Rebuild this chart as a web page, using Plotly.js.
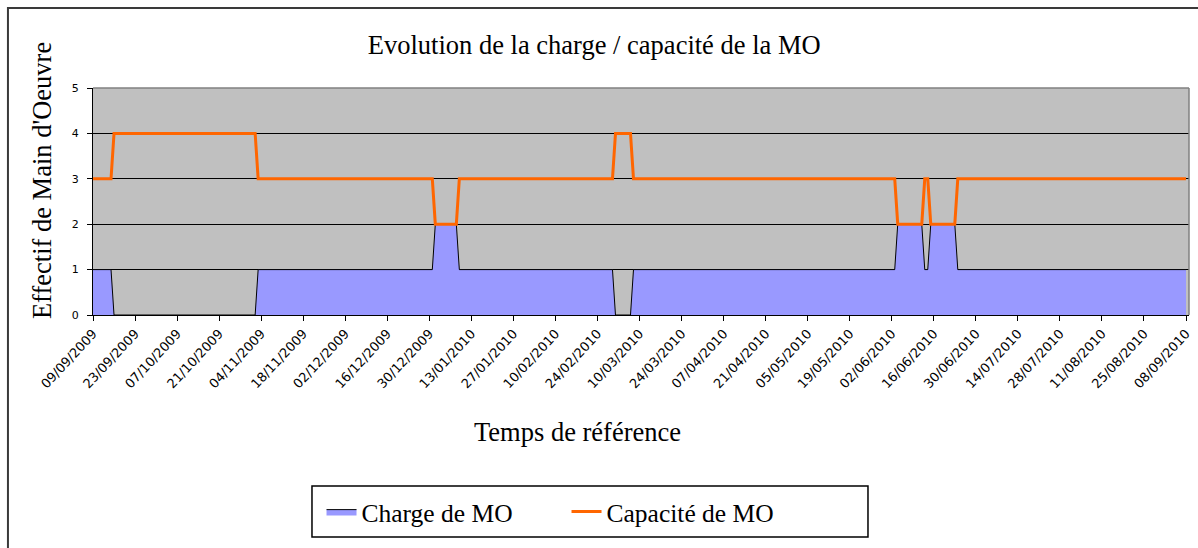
<!DOCTYPE html>
<html>
<head>
<meta charset="utf-8">
<script src="https://cdn.plot.ly/plotly-3.0.1.min.js"></script>
<style>
    body { margin: 0; background: #fff; }
    #chart { width: 1198px; height: 548px; }
</style>
</head>
<body>
<div id="chart"></div>
<script>
// Days where the staffing changes (value holds until the next date)
const changeDates = [
    '2009-09-09', '2009-09-15', '2009-09-16', '2009-11-02', '2009-11-03',
    '2009-12-31', '2010-01-01', '2010-01-08', '2010-01-09',
    '2010-03-01', '2010-03-02', '2010-03-07', '2010-03-08',
    '2010-06-03', '2010-06-04', '2010-06-12', '2010-06-13', '2010-06-14',
    '2010-06-15', '2010-06-23', '2010-06-24', '2010-09-08'
];
const chargeValues = [1, 1, 0, 0, 1, 1, 2, 2, 1, 1, 0, 0, 1, 1, 2, 2, 1, 1, 2, 2, 1, 1];
const capaciteValues = [3, 3, 4, 4, 3, 3, 2, 2, 3, 3, 4, 4, 3, 3, 2, 2, 3, 3, 2, 2, 3, 3];

// Axis ticks, one every 14 days
const tickDates = [
    '2009-09-09', '2009-09-23', '2009-10-07', '2009-10-21', '2009-11-04', '2009-11-18',
    '2009-12-02', '2009-12-16', '2009-12-30', '2010-01-13', '2010-01-27', '2010-02-10',
    '2010-02-24', '2010-03-10', '2010-03-24', '2010-04-07', '2010-04-21', '2010-05-05',
    '2010-05-19', '2010-06-02', '2010-06-16', '2010-06-30', '2010-07-14', '2010-07-28',
    '2010-08-11', '2010-08-25', '2010-09-08'
];
const tickLabels = [
    '09/09/2009', '23/09/2009', '07/10/2009', '21/10/2009', '04/11/2009', '18/11/2009',
    '02/12/2009', '16/12/2009', '30/12/2009', '13/01/2010', '27/01/2010', '10/02/2010',
    '24/02/2010', '10/03/2010', '24/03/2010', '07/04/2010', '21/04/2010', '05/05/2010',
    '19/05/2010', '02/06/2010', '16/06/2010', '30/06/2010', '14/07/2010', '28/07/2010',
    '11/08/2010', '25/08/2010', '08/09/2010'
];

const serif = 'Liberation Serif, Times New Roman, serif';

const traces = [
    {
        x: changeDates,
        y: chargeValues,
        name: 'Charge de MO',
        type: 'scatter',
        mode: 'lines',
        fill: 'tozeroy',
        fillcolor: '#9999FF',
        line: { color: '#000000', width: 1 }
    },
    {
        x: changeDates,
        y: capaciteValues,
        name: 'Capacité de MO',
        type: 'scatter',
        mode: 'lines',
        line: { color: '#FF6600', width: 3 }
    }
];

const layout = {
    width: 1198,
    height: 548,
    margin: { l: 93, r: 9, t: 88, b: 233 },
    paper_bgcolor: '#ffffff',
    plot_bgcolor: '#C0C0C0',
    showlegend: true,
    title: {
        text: 'Evolution de la charge / capacité de la MO',
        font: { family: serif, size: 26.5, color: '#000' },
        xref: 'container', x: 0.496, xanchor: 'center',
        yref: 'container', y: 0.918, yanchor: 'middle'
    },
    xaxis: {
        type: 'date',
        range: ['2009-09-09', '2010-09-09'],
        tickvals: tickDates,
        ticktext: tickLabels,
        tickangle: -47,
        tickfont: { family: 'DejaVu Sans, Arial, sans-serif', size: 13, color: '#000' },
        ticks: 'outside', ticklen: 5, tickcolor: '#000',
        showgrid: false, zeroline: false,
        showline: true, linecolor: '#000', linewidth: 1
    },
    yaxis: {
        range: [0, 5],
        dtick: 1,
        tickfont: { family: 'DejaVu Sans, Arial, sans-serif', size: 11, color: '#000' },
        ticks: 'outside', ticklen: 5, tickcolor: '#000',
        ticklabelstandoff: 6,
        showgrid: true, gridcolor: '#000', gridwidth: 1,
        zeroline: false,
        showline: true, linecolor: '#000', linewidth: 1
    },
    legend: {
        orientation: 'h',
        x: 0.2085, xanchor: 'left',
        y: -0.868, yanchor: 'middle',
        borderwidth: 0,
        bgcolor: 'rgba(0,0,0,0)',
        entrywidth: 200,
        font: { family: serif, size: 25.5, color: '#000' }
    },
    annotations: [
        {
            text: "Effectif de Main d'Oeuvre",
            xref: 'paper', yref: 'paper',
            x: -0.0465, y: 0.59,
            xanchor: 'center', yanchor: 'middle',
            textangle: -90, showarrow: false,
            font: { family: serif, size: 26.5, color: '#000' }
        },
        {
            text: 'Temps de référence',
            xref: 'paper', yref: 'paper',
            x: 0.4425, y: -0.515,
            xanchor: 'center', yanchor: 'middle',
            showarrow: false,
            font: { family: serif, size: 26.5, color: '#000' }
        }
    ],
    shapes: [
        // grey plot frame on top and right
        { type: 'line', xref: 'paper', yref: 'paper', x0: 0, x1: 1, y0: 1, y1: 1, line: { color: '#808080', width: 1.5 } },
        { type: 'line', xref: 'paper', yref: 'paper', x0: 1, x1: 1, y0: 0, y1: 1, line: { color: '#808080', width: 1.5 } },
        // legend box
        { type: 'rect', xref: 'paper', yref: 'paper', x0: 0.1998, x1: 0.7071, y0: -0.978, y1: -0.753, fillcolor: '#fff', line: { color: '#000', width: 1.5 } },
        // outer chart border
        { type: 'rect', xref: 'paper', yref: 'paper', x0: -0.0776, x1: 1.05, y0: -1.2, y1: 1.352, line: { color: '#3a3a3a', width: 2 } }
    ]
};

Plotly.newPlot('chart', traces, layout, { staticPlot: true });
</script>
</body>
</html>
